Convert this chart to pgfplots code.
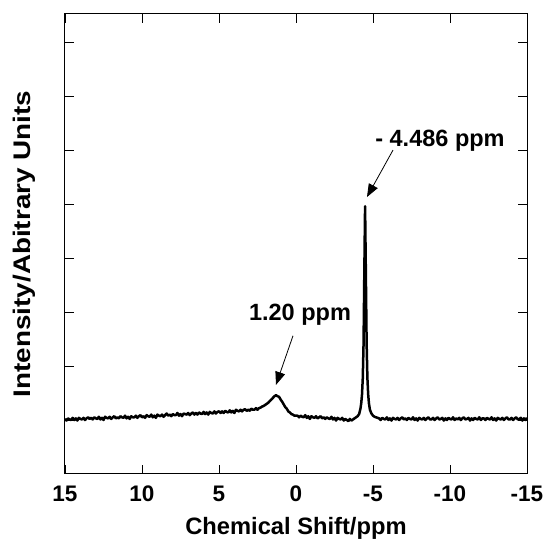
\documentclass[border=0pt]{standalone}
\usepackage{fontspec}
\setmainfont{Liberation Sans}
\usepackage{pgfplots}
\pgfplotsset{compat=1.18}
\usetikzlibrary{arrows.meta}

\begin{document}
\begin{tikzpicture}
\begin{axis}[
    name=ax,
    scale only axis,
    width=462pt, height=460pt,
    x dir=reverse,
    xmin=-15, xmax=15,
    ymin=0, ymax=8.52,
    xtick={15,10,5,0,-5,-10,-15},
    xticklabels={15,10,5,0,-5,-10,-15},
    ytick={1,2,3,4,5,6,7,8},
    yticklabels={},
    tick align=inside,
    major tick length=9pt,
    tick style={black, line width=0.8pt},
    axis line style={black, line width=1pt},
    xticklabel style={anchor=base, yshift=-28pt, font=\fontsize{22.5}{26}\selectfont\bfseries},
    xlabel={Chemical Shift/ppm},
    every axis x label/.style={at={(axis description cs:0.5,0)}, anchor=base, yshift=-61pt,
        font=\fontsize{23.7}{28}\selectfont\bfseries},
    ylabel={Intensity/Abitrary Units},
    every axis y label/.style={at={(axis description cs:-0.0736,0.5)}, rotate=90, xscale=1.16,
        anchor=base, font=\fontsize{24}{28}\selectfont\bfseries},
    clip=false,
]
\addplot[black, line width=2.5pt, line join=round] coordinates {
(15.0,1.02) (14.9,0.99) (14.8,1.03) (14.7,1.01) (14.6,1.00) (14.5,1.04) (14.4,1.00)
(14.3,1.03) (14.2,0.99) (14.1,1.04) (14.0,1.02) (13.9,1.01) (13.8,1.04) (13.7,1.00)
(13.6,1.03) (13.5,1.05) (13.4,1.02) (13.3,1.04) (13.2,1.01) (13.1,1.05) (13.0,1.03)
(12.9,1.02) (12.8,1.06) (12.7,1.01) (12.6,1.04) (12.5,1.00) (12.4,1.06) (12.3,1.04)
(12.2,1.03) (12.1,1.06) (12.0,1.02) (11.9,1.05) (11.8,1.07) (11.7,1.03) (11.6,1.05)
(11.5,1.03) (11.4,1.07) (11.3,1.05) (11.2,1.04) (11.1,1.08) (11.0,1.03) (10.9,1.06)
(10.8,1.02) (10.7,1.07) (10.6,1.05) (10.5,1.05) (10.4,1.08) (10.3,1.04) (10.2,1.07)
(10.1,1.09) (10.0,1.05) (9.9,1.07) (9.8,1.04) (9.7,1.09) (9.6,1.07) (9.5,1.06)
(9.4,1.10) (9.3,1.05) (9.2,1.08) (9.1,1.04) (9.0,1.10) (8.9,1.08) (8.8,1.07)
(8.7,1.10) (8.6,1.06) (8.5,1.09) (8.4,1.12) (8.3,1.08) (8.2,1.10) (8.1,1.07)
(8.0,1.11) (7.9,1.09) (7.8,1.09) (7.7,1.13) (7.6,1.08) (7.5,1.11) (7.4,1.07)
(7.3,1.12) (7.2,1.11) (7.1,1.10) (7.0,1.13) (6.9,1.09) (6.8,1.12) (6.7,1.14)
(6.6,1.10) (6.5,1.13) (6.4,1.10) (6.3,1.14) (6.2,1.12) (6.1,1.11) (6.0,1.15)
(5.9,1.11) (5.8,1.14) (5.7,1.10) (5.6,1.15) (5.5,1.13) (5.4,1.12) (5.3,1.16)
(5.2,1.12) (5.1,1.15) (5.0,1.16) (4.9,1.13) (4.8,1.16) (4.7,1.13) (4.6,1.17)
(4.5,1.15) (4.4,1.14) (4.3,1.18) (4.2,1.14) (4.1,1.17) (4.0,1.13) (3.9,1.19)
(3.8,1.17) (3.7,1.16) (3.6,1.19) (3.5,1.16) (3.4,1.19) (3.3,1.20) (3.2,1.17)
(3.1,1.19) (3.0,1.17) (2.9,1.21) (2.8,1.19) (2.7,1.19) (2.6,1.22) (2.5,1.19)
(2.4,1.22) (2.3,1.23) (2.2,1.25) (2.1,1.26) (2.0,1.28) (1.9,1.30) (1.8,1.32)
(1.7,1.35) (1.6,1.38) (1.5,1.41) (1.4,1.44) (1.3,1.46) (1.2,1.44) (1.1,1.43)
(1.0,1.38) (0.9,1.34) (0.8,1.29) (0.7,1.24) (0.6,1.21) (0.5,1.16) (0.4,1.14)
(0.3,1.11) (0.2,1.10) (0.1,1.08) (0.0,1.08) (-0.1,1.08) (-0.2,1.05) (-0.3,1.08)
(-0.4,1.06) (-0.5,1.05) (-0.6,1.09) (-0.7,1.04) (-0.8,1.07) (-0.9,1.02) (-1.0,1.07)
(-1.1,1.05) (-1.2,1.04) (-1.3,1.07) (-1.4,1.03) (-1.5,1.05) (-1.6,1.07) (-1.7,1.03)
(-1.8,1.05) (-1.9,1.02) (-2.0,1.05) (-2.1,1.03) (-2.2,1.02) (-2.3,1.06) (-2.4,1.01)
(-2.5,1.04) (-2.6,0.99) (-2.7,1.04) (-2.8,1.02) (-2.9,1.01) (-3.0,1.04) (-3.1,0.99)
(-3.2,1.02) (-3.3,1.00) (-3.4,0.98) (-3.5,1.02) (-3.6,0.99) (-3.7,1.01) (-3.8,1.03)
(-3.9,1.05) (-4.0,1.07) (-4.1,1.11) (-4.186,1.21) (-4.236,1.31) (-4.286,1.47)
(-4.336,1.77) (-4.386,2.40) (-4.436,3.70) (-4.486,4.96) (-4.536,3.72) (-4.586,2.42)
(-4.636,1.78) (-4.686,1.48) (-4.736,1.31) (-4.8,1.19) (-4.9,1.12) (-5.0,1.08)
(-5.1,1.06) (-5.2,1.05) (-5.3,1.04) (-5.4,1.03) (-5.5,1.00) (-5.6,1.04) (-5.7,1.02)
(-5.8,1.01) (-5.9,1.05) (-6.0,1.00) (-6.1,1.03) (-6.2,0.99) (-6.3,1.04) (-6.4,1.02)
(-6.5,1.01) (-6.6,1.04) (-6.7,1.00) (-6.8,1.03) (-6.9,1.05) (-7.0,1.01) (-7.1,1.03)
(-7.2,1.00) (-7.3,1.04) (-7.4,1.02) (-7.5,1.01) (-7.6,1.05) (-7.7,1.00) (-7.8,1.03)
(-7.9,0.99) (-8.0,1.04) (-8.1,1.02) (-8.2,1.01) (-8.3,1.04) (-8.4,1.00) (-8.5,1.03)
(-8.6,1.05) (-8.7,1.01) (-8.8,1.01) (-8.9,1.04) (-9.0,1.00) (-9.1,1.03) (-9.2,1.05)
(-9.3,1.01) (-9.4,1.02) (-9.5,1.04) (-9.6,0.99) (-9.7,1.03) (-9.8,1.00) (-9.9,1.04)
(-10.0,1.02) (-10.1,1.01) (-10.2,1.05) (-10.3,1.00) (-10.4,1.03) (-10.5,1.01) (-10.6,1.04)
(-10.7,1.00) (-10.8,1.03) (-10.9,1.05) (-11.0,1.01) (-11.1,1.02) (-11.2,1.04) (-11.3,0.99)
(-11.4,1.03) (-11.5,1.00) (-11.6,1.04) (-11.7,1.02) (-11.8,1.01) (-11.9,1.05) (-12.0,1.00)
(-12.1,1.03) (-12.2,1.03) (-12.3,1.00) (-12.4,1.04) (-12.5,1.02) (-12.6,1.01) (-12.7,1.05)
(-12.8,1.00) (-12.9,1.03) (-13.0,0.99) (-13.1,1.04) (-13.2,1.02) (-13.3,1.01) (-13.4,1.04)
(-13.5,1.00) (-13.6,1.03) (-13.7,1.05) (-13.8,1.01) (-13.9,1.01) (-14.0,1.04) (-14.1,1.00)
(-14.2,1.03) (-14.3,1.05) (-14.4,1.01) (-14.5,1.02) (-14.6,1.04) (-14.7,0.99) (-14.8,1.03)
(-14.9,1.00) (-15.0,1.04)
};
% annotations
\draw[line width=0.8pt, -{Triangle[length=13pt,width=10pt]}] (axis cs:0.195,2.56) -- (axis cs:1.30,1.65);
\draw[line width=0.8pt, -{Triangle[length=13pt,width=10pt]}] (axis cs:-6.30,6.0) -- (axis cs:-4.61,5.13);
\node[anchor=base, font=\fontsize{23.5}{28}\selectfont\bfseries] at (axis cs:-0.26,2.85) {1.20 ppm};
\node[anchor=base, font=\fontsize{23.5}{28}\selectfont\bfseries] at (axis cs:-9.35,6.06) {- 4.486 ppm};
\end{axis}
\pgfresetboundingbox
\path[use as bounding box] ([shift={(-65pt,-70pt)}]ax.south west) rectangle ([shift={(23pt,14pt)}]ax.north east);
\end{tikzpicture}
\end{document}
